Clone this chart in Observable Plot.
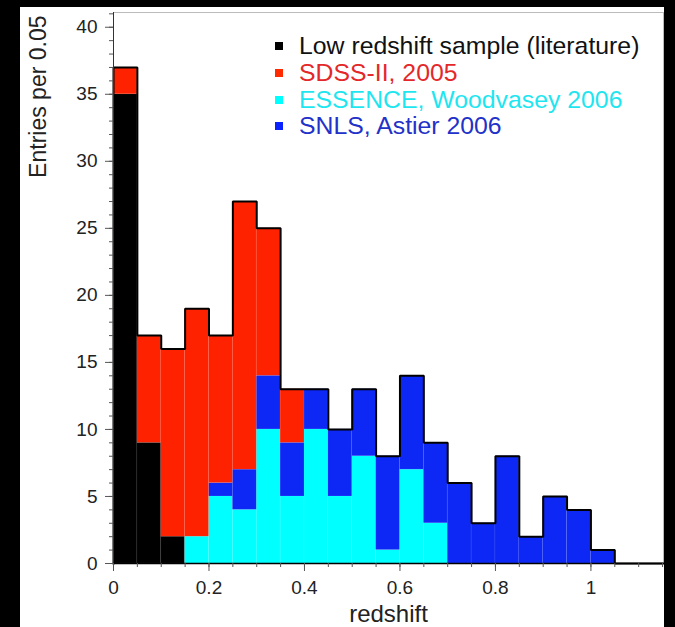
<!DOCTYPE html>
<html><head><meta charset="utf-8">
<script src="https://cdn.jsdelivr.net/npm/d3@7"></script>
<script src="https://cdn.jsdelivr.net/npm/@observablehq/plot@0.6"></script>
<style>
html,body{margin:0;padding:0;background:#000;width:675px;height:627px;overflow:hidden;}
#panel{position:absolute;left:20px;top:7px;width:644px;height:620px;background:#fff;}
#legend{position:absolute;left:255px;top:26px;font-family:"Liberation Sans",Arial,sans-serif;font-size:24.8px;}
.row{display:flex;align-items:center;height:26.7px;white-space:nowrap;}
.sw{width:8px;height:8px;margin-right:16px;flex:none;}
</style></head><body><div id="panel"></div>
<script>
// bin left edges (width 0.05)
const binLeft = [0,0.05,0.1,0.15,0.2,0.25,0.3,0.35,0.4,0.45,0.5,0.55,0.6,0.65,0.7,0.75,0.8,0.85,0.9,0.95,1.0];
const binWidth = 0.05;
// counts per bin, per sample
const lowZ    = [35,9,2,0,0,0,0,0,0,0,0,0,0,0,0,0,0,0,0,0,0];
const essence = [0,0,0,2,5,4,10,5,10,5,8,1,7,3,0,0,0,0,0,0,0];
const snls    = [0,0,0,0,1,3,4,4,3,5,5,7,7,6,6,3,8,2,5,4,1];
const sdss    = [2,8,14,17,11,20,11,4,0,0,0,0,0,0,0,0,0,0,0,0,0];

const seriesNames = ["Low redshift sample (literature)","SDSS-II, 2005","ESSENCE, Woodvasey 2006","SNLS, Astier 2006"];
const barColors   = ["#000000","#ff2200","#00ffff","#0d28f5"];
const textColors  = ["#111111","#e4282a","#1ee6f0","#2231c8"];
const swatchColors= ["#000000","#ff2a00","#00ffff","#0a22ff"];

const xMajor = [0,0.2,0.4,0.6,0.8,1];
const xTickLabels = ["0","0.2","0.4","0.6","0.8","1"];
const xMinor = [0,0.05,0.1,0.15,0.2,0.25,0.3,0.35,0.4,0.45,0.5,0.55,0.6,0.65,0.7,0.75,0.8,0.85,0.9,0.95,1,1.05,1.1,1.15];
const yMajor = [0,5,10,15,20,25,30,35,40];
const yTickLabels = ["0","5","10","15","20","25","30","35","40"];
const yMinor = d3.range(0, 42);
const xDomain = [0, 1.152];
const yDomain = [0, 41.1];
const xLabel = "redshift";
const yLabel = "Entries per 0.05";

// stacking order bottom -> top: low-z, ESSENCE, SNLS, SDSS
const stackOrder = [[lowZ, seriesNames[0]], [essence, seriesNames[2]], [snls, seriesNames[3]], [sdss, seriesNames[1]]];
const rows = stackOrder.flatMap(([vals, name]) =>
  binLeft.map((x, i) => ({x1: x, x2: x + binWidth, y: vals[i], series: name}))).filter(d => d.y > 0);
const totals = binLeft.map((x, i) => lowZ[i] + essence[i] + snls[i] + sdss[i]);
const outline = [{x: binLeft[0], y: 0}, ...binLeft.map((x, i) => ({x, y: totals[i]})),
  {x: binLeft[binLeft.length - 1] + binWidth, y: 0}, {x: xDomain[1], y: 0}];

const chart = Plot.plot({
  width: 644, height: 620,
  marginLeft: 93, marginRight: 1, marginTop: 5, marginBottom: 64,
  style: {background: "#fff", fontFamily: "'Liberation Sans', Arial, sans-serif", overflow: "visible", color: "#222"},
  x: {domain: xDomain},
  y: {domain: yDomain},
  color: {domain: seriesNames, range: barColors},
  marks: [
    Plot.frame({stroke: "#bbb", strokeWidth: 1}),
    Plot.rectY(rows, {x1: "x1", x2: "x2", y: "y", fill: "series", stroke: "#fff", strokeOpacity: 0.07, strokeWidth: 0.8}),
    Plot.lineY(outline, {x: "x", y: "y", curve: "step-after", stroke: "#000", strokeWidth: 2, strokeLinejoin: "miter", strokeLinecap: "square"}),
    Plot.ruleX([0], {stroke: "#333", strokeWidth: 1}),
    Plot.ruleY([0], {stroke: "#000", strokeWidth: 1.5}),
    Plot.axisX({ticks: xMinor, tickSize: 4, fill: "none", stroke: "#555", label: null}),
    Plot.axisX({ticks: xMajor, tickSize: 8, tickPadding: 9, fontSize: 19, stroke: "#555", fill: "#222",
      tickFormat: (d, i) => xTickLabels[i], label: null}),
    Plot.axisY({ticks: yMinor, tickSize: 4, fill: "none", stroke: "#555", label: null}),
    Plot.axisY({ticks: yMajor, tickSize: 8, tickPadding: 8, fontSize: 19, stroke: "#555", fill: "#222",
      tickFormat: (d, i) => yTickLabels[i], label: null}),
    Plot.text([xLabel], {text: d => d, frameAnchor: "bottom", dy: 51, fontSize: 24, lineAnchor: "middle", fill: "#222"}),
    Plot.text([yLabel], {text: d => d, frameAnchor: "top-left", dx: -75, dy: 3, rotate: -90, textAnchor: "end", lineAnchor: "middle", fontSize: 23, fill: "#222"})
  ]
});
const panel = document.getElementById("panel");
panel.appendChild(chart);

const legend = document.createElement("div");
legend.id = "legend";
seriesNames.forEach((name, i) => {
  const row = document.createElement("div");
  row.className = "row";
  const sw = document.createElement("span");
  sw.className = "sw";
  sw.style.background = swatchColors[i];
  const t = document.createElement("span");
  t.textContent = name;
  t.style.color = textColors[i];
  row.appendChild(sw); row.appendChild(t);
  legend.appendChild(row);
});
panel.appendChild(legend);
</script></body></html>
